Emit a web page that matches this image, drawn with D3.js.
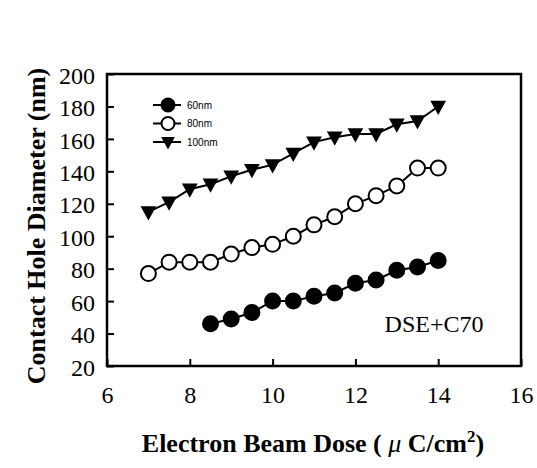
<!DOCTYPE html>
<html>
<head>
<meta charset="utf-8">
<script src="https://cdn.jsdelivr.net/npm/d3@7"></script>
<style>
  body { margin: 0; background: #fff; }
  svg { display: block; }
</style>
</head>
<body>
<div id="chart"></div>
<script>
const doseA = [8.5, 9, 9.5, 10, 10.5, 11, 11.5, 12, 12.5, 13, 13.5, 14];
const d60 = [46, 49, 53, 60, 60, 63, 65, 71, 73, 79, 81, 85];
const doseB = [7, 7.5, 8, 8.5, 9, 9.5, 10, 10.5, 11, 11.5, 12, 12.5, 13, 13.5, 14];
const d80 = [77, 84, 84, 84, 89, 93, 95, 100, 107, 112, 120, 125, 131, 142, 142];
const d100 = [115, 121, 129, 132, 137, 141, 144, 151, 158, 161, 163, 163, 169, 171, 180];
const xTicks = [6, 8, 10, 12, 14, 16];
const yTicks = [20, 40, 60, 80, 100, 120, 140, 160, 180, 200];

const width = 537, height = 468;
const plotL = 107, plotR = 521, plotT = 74, plotB = 366;
const serif = "'Liberation Serif', 'Times New Roman', serif";

const svg = d3.select("#chart").append("svg")
    .attr("width", width)
    .attr("height", height);

const x = d3.scaleLinear().domain([6, 16]).range([plotL, plotR]);
const y = d3.scaleLinear().domain([20, 200]).range([plotB, plotT]);

// ticks point inward
const xAxis = d3.axisBottom(x).tickValues(xTicks).tickSizeInner(-7).tickSizeOuter(0).tickPadding(20);
const yAxis = d3.axisLeft(y).tickValues(yTicks).tickSizeInner(-7).tickSizeOuter(0).tickPadding(12);

const gx = svg.append("g").attr("transform", `translate(0,${plotB})`).call(xAxis);
const gy = svg.append("g").attr("transform", `translate(${plotL},0)`).call(yAxis);
[gx, gy].forEach(g => {
    g.select(".domain").remove();
    g.selectAll("line").attr("stroke", "#000").attr("stroke-width", 2);
    g.selectAll("text")
        .attr("fill", "#000")
        .style("font-family", serif)
        .style("font-size", "24px");
});
gx.selectAll("text").attr("dy", "0.71em");
gy.selectAll("text").attr("dy", "0.38em");

svg.append("rect")
    .attr("x", plotL).attr("y", plotT)
    .attr("width", plotR - plotL).attr("height", plotB - plotT)
    .attr("fill", "none").attr("stroke", "#000").attr("stroke-width", 2.5);

const series = [
    { name: "60nm", xs: doseA, ys: d60, shape: "filled" },
    { name: "80nm", xs: doseB, ys: d80, shape: "open" },
    { name: "100nm", xs: doseB, ys: d100, shape: "tri" }
];

const line = d3.line().x(d => x(d[0])).y(d => y(d[1]));

function marker(g, shape, cx, cy, r) {
    if (shape === "tri") {
        const h = r * 1.9, w = r * 2.1;
        g.append("path")
            .attr("d", `M${cx - w / 2},${cy - h * 0.4} L${cx + w / 2},${cy - h * 0.4} L${cx},${cy + h * 0.6} Z`)
            .attr("fill", "#000");
    } else {
        g.append("circle")
            .attr("cx", cx).attr("cy", cy).attr("r", r)
            .attr("fill", shape === "filled" ? "#000" : "#fff")
            .attr("stroke", "#000").attr("stroke-width", 2);
    }
}

series.forEach(s => {
    const pts = s.xs.map((v, i) => [v, s.ys[i]]);
    svg.append("path")
        .attr("d", line(pts))
        .attr("fill", "none").attr("stroke", "#000").attr("stroke-width", 2);
    const g = svg.append("g");
    pts.forEach(p => marker(g, s.shape, x(p[0]), y(p[1]), 7.5));
});

// legend
const leg = svg.append("g");
series.forEach((s, i) => {
    const ly = 105 + i * 18.5;
    leg.append("line")
        .attr("x1", 153).attr("x2", 181).attr("y1", ly).attr("y2", ly)
        .attr("stroke", "#000").attr("stroke-width", 2);
    marker(leg, s.shape, 168, ly, 6.5);
    leg.append("text")
        .attr("x", 187).attr("y", ly).attr("dy", "0.35em")
        .style("font-family", "'Liberation Sans', Arial, sans-serif")
        .style("font-size", "10px")
        .text(s.name);
});

svg.append("text")
    .attr("x", 434).attr("y", 332)
    .attr("text-anchor", "middle")
    .style("font-family", serif)
    .style("font-size", "24px")
    .text("DSE+C70");

// axis titles
const xt = svg.append("text")
    .attr("x", 313).attr("y", 452)
    .attr("text-anchor", "middle")
    .style("font-family", serif)
    .style("font-size", "26px")
    .style("font-weight", "bold");
xt.append("tspan").text("Electron Beam Dose ( ");
xt.append("tspan").style("font-style", "italic").style("font-weight", "normal").text("\u03bc");
xt.append("tspan").text(" C/cm");
xt.append("tspan").attr("dy", -10).style("font-size", "17px").text("2");
xt.append("tspan").attr("dy", 10).text(")");

svg.append("text")
    .attr("transform", "translate(45,226) rotate(-90)")
    .attr("text-anchor", "middle")
    .style("font-family", serif)
    .style("font-size", "26px")
    .style("font-weight", "bold")
    .text("Contact Hole Diameter (nm)");
</script>
</body>
</html>
